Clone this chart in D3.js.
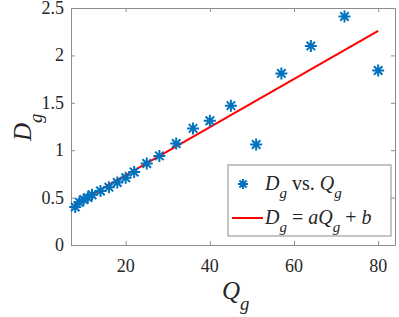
<!DOCTYPE html>
<html>
<head>
<meta charset="utf-8">
<script src="https://cdn.jsdelivr.net/npm/d3@7"></script>
</head>
<body style="margin:0">
<script>
// values
var qValues = [8, 9, 10, 11, 12, 14, 16, 18, 20, 22, 25, 28, 32, 36, 40, 45, 51, 57, 64, 72, 80];
var dValues = [0.40, 0.45, 0.48, 0.50, 0.53, 0.57, 0.61, 0.66, 0.71, 0.77, 0.86, 0.94, 1.07, 1.23, 1.31, 1.47, 1.06, 1.81, 2.10, 2.41, 1.84];
var fitA = 0.0254, fitB = 0.227;
var xTicks = [20, 40, 60, 80];
var yTicks = [0, 0.5, 1, 1.5, 2, 2.5];

var W = 399, H = 317;
var axisColor = "#8c8c8c", textColor = "#262626";
var fam = "Times New Roman";

var chart = d3.select("body").append("svg")
  .attr("width", W).attr("height", H)
  .attr("font-family", fam);

var xs = d3.scaleLinear().domain([7, 84]).range([71, 395]);
var ys = d3.scaleLinear().domain([0, 2.5]).range([245, 8]);

//frame lines and inward ticks, no d3 axis text
function frame(g) {
  g.attr("font-family", fam);
  g.select(".domain").attr("stroke", axisColor);
  g.selectAll(".tick line").attr("stroke", axisColor);
  g.selectAll(".tick text").remove();
}

chart.append("g").attr("transform", "translate(0," + ys(0) + ")")
  .call(d3.axisBottom(xs).tickValues(xTicks).tickSizeInner(-4).tickSizeOuter(0)).call(frame);
chart.append("g").attr("transform", "translate(0," + ys(2.5) + ")")
  .call(d3.axisTop(xs).tickValues(xTicks).tickSizeInner(-4).tickSizeOuter(0)).call(frame);
chart.append("g").attr("transform", "translate(" + xs(7) + ",0)")
  .call(d3.axisLeft(ys).tickValues(yTicks).tickSizeInner(-4).tickSizeOuter(0)).call(frame);
chart.append("g").attr("transform", "translate(" + xs(84) + ",0)")
  .call(d3.axisRight(ys).tickValues(yTicks).tickSizeInner(-4).tickSizeOuter(0)).call(frame);

// tick labels
chart.selectAll("text.xt").data(xTicks).enter().append("text")
  .attr("class", "xt")
  .attr("x", function(d) { return xs(d); }).attr("y", 272)
  .attr("text-anchor", "middle")
  .attr("font-family", fam).attr("font-size", 18).attr("fill", textColor)
  .text(function(d) { return d; });
chart.selectAll("text.yt").data(yTicks).enter().append("text")
  .attr("class", "yt")
  .attr("x", 64).attr("y", function(d) { return ys(d) + 6; })
  .attr("text-anchor", "end")
  .attr("font-family", fam).attr("font-size", 18).attr("fill", textColor)
  .text(function(d) { return d; });

// fit line
chart.append("line")
  .attr("x1", xs(qValues[0])).attr("y1", ys(fitA * qValues[0] + fitB))
  .attr("x2", xs(80)).attr("y2", ys(fitA * 80 + fitB))
  .attr("stroke", "#ff0000").attr("stroke-width", 2);

// asterisk marker
function star(r) {
  var d = r * 0.7071;
  return "M" + (-r) + ",0L" + r + ",0M0," + (-r) + "L0," + r +
    "M" + (-d) + "," + (-d) + "L" + d + "," + d +
    "M" + (-d) + "," + d + "L" + d + "," + (-d);
}

chart.selectAll("path.pt").data(qValues).enter().append("path")
  .attr("class", "pt")
  .attr("d", star(6))
  .attr("transform", function(d, i) { return "translate(" + xs(d) + "," + ys(dValues[i]) + ")"; })
  .attr("stroke", "#0072bd").attr("stroke-width", 2).attr("fill", "none");

// legend
chart.append("rect").attr("x", 228).attr("y", 165).attr("width", 163).attr("height", 71)
  .attr("fill", "#fff").attr("stroke", axisColor);
chart.append("path").attr("d", star(5)).attr("transform", "translate(243,184)")
  .attr("stroke", "#0072bd").attr("stroke-width", 2).attr("fill", "none");
chart.append("line").attr("x1", 232).attr("x2", 263).attr("y1", 218).attr("y2", 218)
  .attr("stroke", "#ff0000").attr("stroke-width", 2);

function mathText(tx, ty, parts, size) {
  var t = chart.append("text").attr("x", tx).attr("y", ty)
    .attr("font-family", fam).attr("font-size", size).attr("fill", textColor);
  parts.forEach(function(p) {
    var s = t.append("tspan").text(p.t).attr("font-family", fam);
    if (p.i) s.attr("font-style", "italic");
    if (p.sub) s.attr("font-size", size * 0.75).attr("dy", size * 0.42);
    if (p.up) s.attr("dy", -size * 0.42);
  });
  return t;
}
mathText(265, 190, [
  {t: "D", i: 1}, {t: "g", i: 1, sub: 1}, {t: " vs. ", up: 1}, {t: "Q", i: 1}, {t: "g", i: 1, sub: 1}
], 20);
mathText(265, 224, [
  {t: "D", i: 1}, {t: "g", i: 1, sub: 1}, {t: " = ", up: 1}, {t: "a", i: 1}, {t: "Q", i: 1},
  {t: "g", i: 1, sub: 1}, {t: " + ", up: 1}, {t: "b", i: 1}
], 20);

// axis titles
mathText(222, 299, [{t: "Q", i: 1}, {t: "g", i: 1, sub: 1}], 25);
mathText(0, 0, [{t: "D", i: 1}, {t: "g", i: 1, sub: 1}], 25)
  .attr("transform", "translate(31,141) rotate(-90)");
</script>
</body>
</html>
